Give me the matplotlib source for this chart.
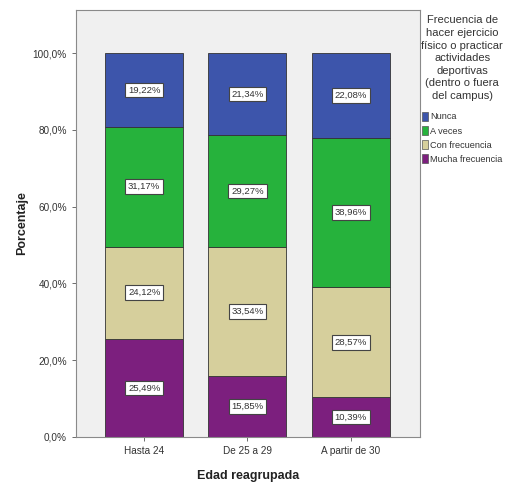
import matplotlib.pyplot as plt
from matplotlib.patches import Patch
import numpy as np

plt.rcParams['font.family'] = ['Liberation Sans', 'DejaVu Sans']

# Data (percent within each age group)
grupos = ['Hasta 24', 'De 25 a 29', 'A partir de 30']
categorias = ['Nunca', 'A veces', 'Con frecuencia', 'Mucha frecuencia']
mucha_frecuencia = [25.49, 15.85, 10.39]
con_frecuencia = [24.12, 33.54, 28.57]
a_veces = [31.17, 29.27, 38.96]
nunca = [19.22, 21.34, 22.08]

colores = {'Nunca': '#3d55ab', 'A veces': '#26b23c',
           'Con frecuencia': '#d6cf9c', 'Mucha frecuencia': '#7c1f7e'}

fig = plt.figure(figsize=(5.09, 4.87), dpi=100)
ax = fig.add_axes([76/509, 1 - 437/487, (420-76)/509, (437-10)/487])
ax.set_facecolor('#f0f0f0')

x = np.arange(len(grupos))
bottom = np.zeros(len(grupos))
# stack from bottom: Mucha, Con, A veces, Nunca
for nombre, vals in [('Mucha frecuencia', mucha_frecuencia),
                     ('Con frecuencia', con_frecuencia),
                     ('A veces', a_veces),
                     ('Nunca', nunca)]:
    vals = np.array(vals)
    ax.bar(x, vals, 0.755, bottom=bottom, color=colores[nombre],
           edgecolor='#333333', linewidth=0.6)
    for xi, b, v in zip(x, bottom, vals):
        ax.text(xi, b + v / 2, f'{v:.2f}%'.replace('.', ','), ha='center', va='center',
                fontsize=6.8, color='#333333',
                bbox=dict(boxstyle='square,pad=0.3', facecolor='white',
                          edgecolor='#444444', linewidth=0.8))
    bottom += vals

ax.set_xlim(-0.66, 2.67)
ax.set_ylim(0, 111.2)
ax.set_yticks([0, 20, 40, 60, 80, 100])
ax.set_yticklabels(['0,0%', '20,0%', '40,0%', '60,0%', '80,0%', '100,0%'])
ax.set_xticks(x)
ax.set_xticklabels(grupos)
ax.tick_params(axis='both', labelsize=7.2, colors='#555555', length=3, width=0.6,
               labelcolor='#333333')
for s in ax.spines.values():
    s.set_color('#8a8a8a')
    s.set_linewidth(0.8)

ax.set_ylabel('Porcentaje', fontsize=9, fontweight='bold', color='#222222', labelpad=3)
ax.set_xlabel('Edad reagrupada', fontsize=9, fontweight='bold', color='#222222', labelpad=10)

handles = [Patch(facecolor=colores[c], edgecolor='#555555', linewidth=0.5) for c in categorias]
leg = fig.legend(handles, categorias, loc='upper left',
                 bbox_to_anchor=(415/509, 1 - 9/487), frameon=False,
                 fontsize=6.6, title='Frecuencia de\nhacer ejercicio\nfísico o practicar\nactividades\ndeportivas\n(dentro o fuera\ndel campus)',
                 title_fontsize=8, handlelength=0.7, handleheight=1.1,
                 handletextpad=0.25, labelspacing=0.5, borderpad=0.2)
leg.get_title().set_color('#333333')
leg.get_title().set_linespacing(1.32)
leg.get_title().set_multialignment('center')
leg._legend_box.sep = 8
for t in leg.get_texts():
    t.set_color('#333333')

fig.savefig('out.png', dpi=100)
